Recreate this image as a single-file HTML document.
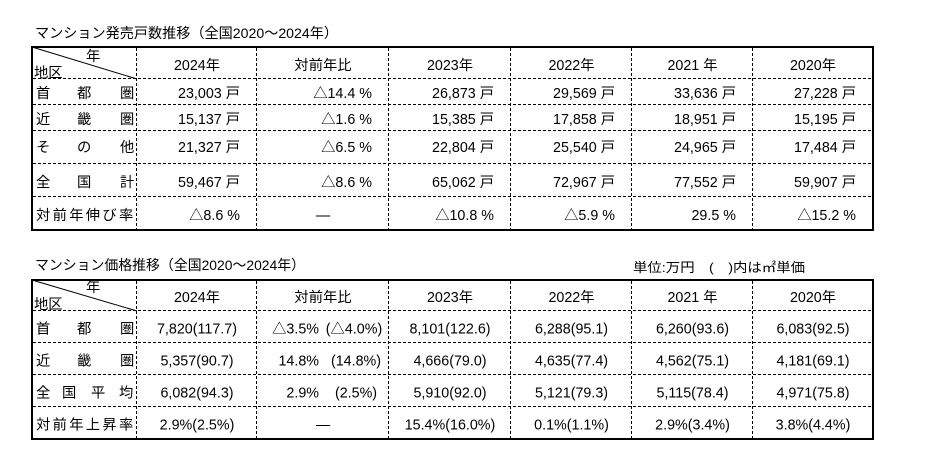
<!DOCTYPE html>
<html><head><meta charset="utf-8">
<style>
html,body{margin:0;padding:0;background:#fff;}
svg{display:block;}
text{font-family:"Liberation Sans","Noto Sans CJK JP",sans-serif;font-size:14.3px;fill:#000;}
.t{font-size:14px;}
.u{font-size:13px;font-weight:normal;}
.d{stroke:#000;stroke-width:1;stroke-dasharray:3,2;fill:none;}
.b{stroke:#000;stroke-width:2;fill:none;}
.c{text-anchor:middle;}
.e{text-anchor:end;}
</style></head>
<body>
<svg width="946" height="472" viewBox="0 0 946 472" xmlns="http://www.w3.org/2000/svg">
<rect x="0" y="0" width="946" height="472" fill="#fff"/>

<!-- ===== Table 1 ===== -->
<text class="t" x="35" y="38" textLength="303" lengthAdjust="spacingAndGlyphs">マンション発売戸数推移（全国2020～2024年）</text>

<g class="d">
<line x1="33" y1="78.5" x2="872" y2="78.5"/>
<line x1="33" y1="104.5" x2="872" y2="104.5"/>
<line x1="33" y1="130.5" x2="872" y2="130.5"/>
<line x1="33" y1="163.5" x2="872" y2="163.5"/>
<line x1="33" y1="196.5" x2="872" y2="196.5"/>
<line x1="136.5" y1="48" x2="136.5" y2="229"/>
<line x1="256.5" y1="48" x2="256.5" y2="229"/>
<line x1="388.5" y1="48" x2="388.5" y2="229"/>
<line x1="510.5" y1="48" x2="510.5" y2="229"/>
<line x1="631.5" y1="48" x2="631.5" y2="229"/>
<line x1="752.5" y1="48" x2="752.5" y2="229"/>
</g>
<line x1="32" y1="47" x2="137" y2="79" stroke="#000" stroke-width="1"/>
<rect class="b" x="32" y="47" width="841" height="183"/>

<text x="86" y="61">年</text>
<text x="34" y="77.5">地区</text>

<text class="c" x="197" y="70">2024年</text>
<text class="c" x="323" y="70">対前年比</text>
<text class="c" x="450" y="70">2023年</text>
<text class="c" x="571.5" y="70">2022年</text>
<text class="c" x="692.5" y="70">2021 年</text>
<text class="c" x="813" y="70">2020年</text>

<!-- row labels -->
<text x="36" y="98">首</text><text x="77" y="98">都</text><text x="120" y="98">圏</text>
<text x="36" y="124">近</text><text x="77" y="124">畿</text><text x="120" y="124">圏</text>
<text x="36" y="152">そ</text><text x="77" y="152">の</text><text x="120" y="152">他</text>
<text x="36" y="187">全</text><text x="77" y="187">国</text><text x="120" y="187">計</text>
<text x="36" y="220">対</text><text x="52.6" y="220">前</text><text x="69.2" y="220">年</text><text x="85.8" y="220">伸</text><text x="102.4" y="220">び</text><text x="119" y="220">率</text>

<!-- row 1 -->
<text class="e" x="240" y="98">23,003 戸</text>
<text class="e" x="372" y="98">△14.4 %</text>
<text class="e" x="494" y="98">26,873 戸</text>
<text class="e" x="615" y="98">29,569 戸</text>
<text class="e" x="736" y="98">33,636 戸</text>
<text class="e" x="856" y="98">27,228 戸</text>
<!-- row 2 -->
<text class="e" x="240" y="124">15,137 戸</text>
<text class="e" x="372" y="124">△1.6 %</text>
<text class="e" x="494" y="124">15,385 戸</text>
<text class="e" x="615" y="124">17,858 戸</text>
<text class="e" x="736" y="124">18,951 戸</text>
<text class="e" x="856" y="124">15,195 戸</text>
<!-- row 3 -->
<text class="e" x="240" y="152">21,327 戸</text>
<text class="e" x="372" y="152">△6.5 %</text>
<text class="e" x="494" y="152">22,804 戸</text>
<text class="e" x="615" y="152">25,540 戸</text>
<text class="e" x="736" y="152">24,965 戸</text>
<text class="e" x="856" y="152">17,484 戸</text>
<!-- row 4 -->
<text class="e" x="240" y="187">59,467 戸</text>
<text class="e" x="372" y="187">△8.6 %</text>
<text class="e" x="494" y="187">65,062 戸</text>
<text class="e" x="615" y="187">72,967 戸</text>
<text class="e" x="736" y="187">77,552 戸</text>
<text class="e" x="856" y="187">59,907 戸</text>
<!-- row 5 -->
<text class="e" x="240" y="220">△8.6 %</text>
<text class="c" x="323" y="220">―</text>
<text class="e" x="494" y="220">△10.8 %</text>
<text class="e" x="615" y="220">△5.9 %</text>
<text class="e" x="736" y="220">29.5 %</text>
<text class="e" x="856" y="220">△15.2 %</text>

<!-- ===== Table 2 ===== -->
<text class="t" x="35" y="270" textLength="270" lengthAdjust="spacingAndGlyphs">マンション価格推移（全国2020～2024年）</text>
<text class="u" x="633" y="272" textLength="172" lengthAdjust="spacingAndGlyphs">単位:万円　(　)内は㎡単価</text>

<g class="d">
<line x1="33" y1="310.5" x2="872" y2="310.5"/>
<line x1="33" y1="342.5" x2="872" y2="342.5"/>
<line x1="33" y1="374.5" x2="872" y2="374.5"/>
<line x1="33" y1="406.5" x2="872" y2="406.5"/>
<line x1="136.5" y1="281" x2="136.5" y2="438"/>
<line x1="256.5" y1="281" x2="256.5" y2="438"/>
<line x1="388.5" y1="281" x2="388.5" y2="438"/>
<line x1="510.5" y1="281" x2="510.5" y2="438"/>
<line x1="631.5" y1="281" x2="631.5" y2="438"/>
<line x1="752.5" y1="281" x2="752.5" y2="438"/>
</g>
<line x1="32" y1="280" x2="137" y2="311" stroke="#000" stroke-width="1"/>
<rect class="b" x="32" y="280" width="841" height="159"/>

<text x="86" y="292">年</text>
<text x="34" y="309">地区</text>

<text class="c" x="197" y="302">2024年</text>
<text class="c" x="323" y="302">対前年比</text>
<text class="c" x="450" y="302">2023年</text>
<text class="c" x="571.5" y="302">2022年</text>
<text class="c" x="692.5" y="302">2021 年</text>
<text class="c" x="813" y="302">2020年</text>

<!-- row labels -->
<text x="36" y="333.5">首</text><text x="77" y="333.5">都</text><text x="120" y="333.5">圏</text>
<text x="36" y="365.5">近</text><text x="77" y="365.5">畿</text><text x="120" y="365.5">圏</text>
<text x="36" y="397.5">全</text><text x="62" y="397.5">国</text><text x="91" y="397.5">平</text><text x="119" y="397.5">均</text>
<text x="36" y="429.5">対</text><text x="52.6" y="429.5">前</text><text x="69.2" y="429.5">年</text><text x="85.8" y="429.5">上</text><text x="102.4" y="429.5">昇</text><text x="119" y="429.5">率</text>

<!-- row 1 -->
<text class="c" x="197" y="333.5">7,820(117.7)</text>
<text class="e" x="319" y="333.5">△3.5%</text>
<text class="c" x="354" y="333.5">(△4.0%)</text>
<text class="c" x="450" y="333.5">8,101(122.6)</text>
<text class="c" x="571.5" y="333.5">6,288(95.1)</text>
<text class="c" x="692.5" y="333.5">6,260(93.6)</text>
<text class="c" x="813" y="333.5">6,083(92.5)</text>
<!-- row 2 -->
<text class="c" x="197" y="365.5">5,357(90.7)</text>
<text class="e" x="319" y="365.5">14.8%</text>
<text class="c" x="356" y="365.5">(14.8%)</text>
<text class="c" x="450" y="365.5">4,666(79.0)</text>
<text class="c" x="571.5" y="365.5">4,635(77.4)</text>
<text class="c" x="692.5" y="365.5">4,562(75.1)</text>
<text class="c" x="813" y="365.5">4,181(69.1)</text>
<!-- row 3 -->
<text class="c" x="197" y="397.5">6,082(94.3)</text>
<text class="e" x="319" y="397.5">2.9%</text>
<text class="c" x="356" y="397.5">(2.5%)</text>
<text class="c" x="450" y="397.5">5,910(92.0)</text>
<text class="c" x="571.5" y="397.5">5,121(79.3)</text>
<text class="c" x="692.5" y="397.5">5,115(78.4)</text>
<text class="c" x="813" y="397.5">4,971(75.8)</text>
<!-- row 4 -->
<text class="c" x="197" y="429.5">2.9%(2.5%)</text>
<text class="c" x="323" y="429.5">―</text>
<text class="c" x="450" y="429.5">15.4%(16.0%)</text>
<text class="c" x="571.5" y="429.5">0.1%(1.1%)</text>
<text class="c" x="692.5" y="429.5">2.9%(3.4%)</text>
<text class="c" x="813" y="429.5">3.8%(4.4%)</text>
</svg>
</body></html>
